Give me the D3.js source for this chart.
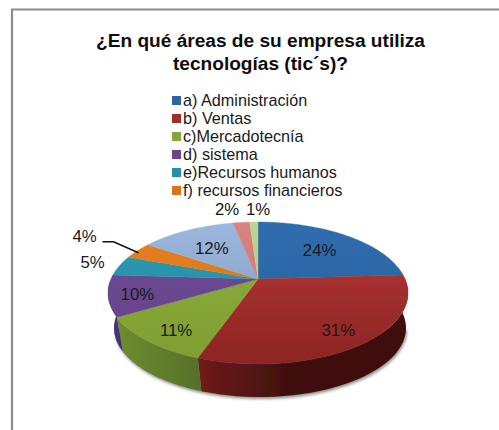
<!DOCTYPE html>
<html><head><meta charset="utf-8">
<style>html,body{margin:0;padding:0;background:#fff;overflow:hidden}svg{display:block}text{font-family:"Liberation Sans",Arial,sans-serif;fill:#1a1a1a}</style>
<script src="https://cdn.jsdelivr.net/npm/d3@7"></script></head><body>
<script>
const categories=["a) Administración","b) Ventas","c)Mercadotecnía","d) sistema","e)Recursos humanos","f) recursos financieros","",  "", ""];
const values=[24,31,11,10,5,4,12,2,1];
const labels=["24%","31%","11%","10%","5%","4%","12%","2%","1%"];
const titleLines=["¿En qué áreas de su empresa utiliza","tecnologías (tic´s)?"];
const faceTop=["#2f6db0","#b83836","#8dae3c","#6f4b98","#2b9ab5","#e8801f","#9db6de","#d98482","#bcd592"];
const faceBottom=["#285f9c","#8c2523","#7f9f33","#634287","#27889f","#d27018","#7f98b8","#c96f6d","#a9c47c"];
const wallLeft=["#1f4a78","#701b19","#6f8f30","#4a3580","#1d6a7d","#a8590f","#5f7696","#9a5553","#86a05f"];
const wallRight=["#1f4a78","#3f100f","#56702a","#3f2e72","#1d6a7d","#a8590f","#5f7696","#9a5553","#86a05f"];
const labelRadius=[.6,.95,1,.83,1.13,1.35,.575,1.06,1.05];
const labelShift=[[0,-1],[-7,3],[10,0],[0,2],[0,-1],[4,-1],[0,0],[-11,-3],[5,-3]];

const W=499,H=430;
const svg=d3.select("body").append("svg").attr("width",W).attr("height",H);
const defs=svg.append("defs");
defs.append("filter").attr("id","soft").attr("x","-5%").attr("y","-5%").attr("width","110%").attr("height","110%")
  .append("feGaussianBlur").attr("stdDeviation",.45);
defs.append("filter").attr("id","shadow").attr("x","-10%").attr("y","-10%").attr("width","120%").attr("height","120%")
  .append("feGaussianBlur").attr("stdDeviation",1.6);

// frame: open on the right and at the bottom
svg.append("path").attr("d",d3.line()([[12,H],[12,9.5],[W,9.5]])).attr("fill","none").attr("stroke","#8c8c8c").attr("stroke-width",2.2);

// title
svg.append("g").selectAll("text").data(titleLines).join("text")
  .attr("x",260.5).attr("y",(d,i)=>47+i*23).attr("text-anchor","middle")
  .attr("font-size",19.1).attr("font-weight","bold").style("fill","#0d0d0d").text(d=>d);

// legend
const legendY=d3.scaleLinear().domain([0,1]).range([106,124]);
const legendItems=categories.map((c,i)=>({c,i})).filter(d=>d.c);
const lg=svg.append("g").selectAll("g").data(legendItems).join("g");
lg.append("rect").attr("x",172).attr("y",d=>legendY(d.i)-10).attr("width",9).attr("height",9)
  .attr("fill",d=>d3.interpolateRgb(faceTop[d.i],faceBottom[d.i])(.6));
lg.append("text").attr("x",183).attr("y",d=>legendY(d.i)).attr("font-size",16.2).text(d=>d.c);

// pie geometry: oblique perspective - apex sits above the centre of the rim ellipse
const apex={x:258,y:279}, upper={cx:258,cy:293,rx:150,ry:71}, base={cx:260,cy:328,rx:146,ry:69}, rayRy=64;
const dir=a=>[Math.sin(a)*upper.rx,-Math.cos(a)*rayRy];
function rim(a){
  const [dx,dy]=dir(a), ox=(apex.x-upper.cx)/upper.rx, oy=(apex.y-upper.cy)/upper.ry, ux=dx/upper.rx, uy=dy/upper.ry;
  const A=ux*ux+uy*uy,B=2*(ox*ux+oy*uy),C=ox*ox+oy*oy-1;
  const t=(-B+Math.sqrt(B*B-4*A*C))/(2*A);
  return [apex.x+t*dx,apex.y+t*dy];
}
const phi=p=>{let f=Math.atan2((p[0]-upper.cx)/upper.rx,-(p[1]-upper.cy)/upper.ry);return f<0?f+2*Math.PI:f;};
const lower=p=>{const f=phi(p);return [base.cx+base.rx*Math.sin(f),base.cy-base.ry*Math.cos(f)];};
const arcs=d3.pie().sort(null).startAngle(0).endAngle(2*Math.PI)(values);
const sample=d=>d3.range(0,41).map(k=>rim(d.startAngle+(d.endAngle-d.startAngle)*k/40));
const line=d3.line();

arcs.forEach((d,i)=>{
  const f=defs.append("linearGradient").attr("id","f"+i).attr("gradientUnits","userSpaceOnUse").attr("x1",0).attr("x2",0).attr("y1",222).attr("y2",362);
  f.append("stop").attr("offset",0).attr("stop-color",faceTop[i]);
  f.append("stop").attr("offset",1).attr("stop-color",faceBottom[i]);
  const w=defs.append("linearGradient").attr("id","w"+i).attr("gradientUnits","userSpaceOnUse").attr("x1",110).attr("x2",i==1?400:(i==2?200:125)).attr("y1",0).attr("y2",0);
  if(i==1){w.attr("x1",198).attr("x2",290);}
  w.append("stop").attr("offset",0).attr("stop-color",wallLeft[i]);
  w.append("stop").attr("offset",1).attr("stop-color",wallRight[i]);
});

const pie=svg.append("g").attr("filter","url(#soft)");
// soft ground shadow
pie.append("path").attr("filter","url(#shadow)").attr("fill","#8f8f8f")
  .attr("d",line(d3.range(0,61).map(k=>{const f=Math.PI/2+Math.PI*k/60;return [base.cx+1+base.rx*Math.sin(f),base.cy+2-base.ry*Math.cos(f)];})));
// side walls of the slices on the near half
pie.append("g").selectAll("path").data(arcs).join("path")
  .attr("fill",(d,i)=>`url(#w${i})`)
  .attr("d",d=>{
    const pts=sample(d).filter(p=>{const f=phi(p);return f>1.35&&f<4.9;});
    if(pts.length<2) return null;
    return line(pts.concat(pts.map(lower).reverse()))+"Z";
  });
// top faces
pie.append("g").selectAll("path").data(arcs).join("path")
  .attr("fill",(d,i)=>`url(#f${i})`)
  .attr("stroke",(d,i)=>`url(#f${i})`).attr("stroke-width",.4)
  .attr("d",d=>line([[apex.x,apex.y]].concat(sample(d)))+"Z");

// leader line for the 4% label
const small=arcs[5], smallMid=(small.startAngle+small.endAngle)/2, hook=rim(smallMid);
svg.append("path").attr("fill","none").attr("stroke","#111").attr("stroke-width",1.5)
  .attr("d",line([[hook[0]-35,hook[1]-9],[hook[0]-24,hook[1]-9],[hook[0]+1,hook[1]+2]]));

// data labels
svg.append("g").selectAll("text").data(arcs).join("text")
  .attr("text-anchor","middle").attr("font-size",16.8)
  .attr("x",(d,i)=>apex.x+labelRadius[i]*dir((d.startAngle+d.endAngle)/2)[0]+labelShift[i][0])
  .attr("y",(d,i)=>apex.y+labelRadius[i]*dir((d.startAngle+d.endAngle)/2)[1]+labelShift[i][1]+6)
  .text((d,i)=>labels[i]);
</script></body></html>
